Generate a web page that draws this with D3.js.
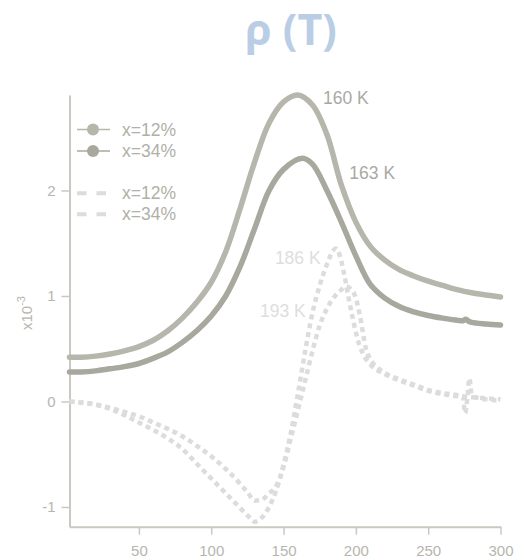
<!DOCTYPE html>
<html>
<head>
<meta charset="utf-8">
<script src="https://cdn.jsdelivr.net/npm/d3@7"></script>
<style>
  html, body { margin: 0; padding: 0; background: #ffffff; }
  svg { display: block; }
</style>
</head>
<body>
<svg id="chart" width="517" height="560"></svg>
<script>
// Resistivity rho(T), in units of 1e-3, for two doping levels
const rhoT12 = [2, 10, 20, 30, 40, 50, 60, 70, 80, 90, 100, 110, 120, 130, 140, 150, 160, 170, 180, 190, 200, 210, 220, 230, 240, 250, 260, 270, 280, 290, 300];
const rho12  = [0.42, 0.42, 0.43, 0.45, 0.48, 0.52, 0.58, 0.67, 0.79, 0.94, 1.13, 1.42, 1.83, 2.27, 2.64, 2.84, 2.905, 2.81, 2.53, 2.05, 1.70, 1.47, 1.34, 1.25, 1.19, 1.14, 1.10, 1.06, 1.03, 1.01, 0.99];

const rhoT34 = [2, 10, 20, 30, 40, 50, 60, 70, 80, 90, 100, 110, 120, 130, 140, 150, 163, 170, 180, 190, 200, 210, 220, 230, 240, 250, 260, 270, 274, 276, 278, 280, 290, 300];
const rho34  = [0.28, 0.28, 0.29, 0.31, 0.33, 0.36, 0.41, 0.47, 0.56, 0.67, 0.81, 1.00, 1.28, 1.64, 2.00, 2.20, 2.305, 2.25, 2.00, 1.70, 1.38, 1.11, 0.98, 0.90, 0.85, 0.815, 0.79, 0.77, 0.765, 0.78, 0.76, 0.75, 0.735, 0.725];

// Second quantity (dotted), same units
const dT12 = [2, 10, 20, 30, 40, 50, 60, 70, 80, 90, 100, 110, 120, 125, 130, 135, 140, 145, 150, 155, 160, 165, 170, 175, 180, 183, 186, 189, 192, 195, 198, 201, 205, 210, 220, 230, 240, 250, 260, 270, 280, 290, 300];
const d12  = [0, -0.01, -0.03, -0.07, -0.13, -0.20, -0.27, -0.35, -0.45, -0.59, -0.73, -0.87, -1.01, -1.08, -1.14, -1.10, -1.00, -0.84, -0.60, -0.30, 0.08, 0.48, 0.84, 1.10, 1.30, 1.40, 1.45, 1.38, 1.20, 0.98, 0.78, 0.60, 0.45, 0.35, 0.26, 0.20, 0.15, 0.10, 0.07, 0.05, 0.04, 0.03, 0.02];

const dT34 = [2, 10, 20, 30, 40, 50, 60, 70, 80, 90, 100, 110, 120, 125, 130, 135, 140, 145, 150, 155, 160, 165, 170, 175, 180, 185, 190, 193, 197, 200, 203, 207, 210, 215, 220, 230, 240, 250, 260, 270, 274, 275.5, 277, 278.5, 280, 285, 290, 300];
const d34  = [0, -0.01, -0.03, -0.06, -0.10, -0.14, -0.20, -0.26, -0.33, -0.42, -0.52, -0.64, -0.78, -0.86, -0.94, -0.93, -0.87, -0.80, -0.62, -0.35, -0.08, 0.20, 0.48, 0.72, 0.88, 0.99, 1.06, 1.09, 1.06, 0.98, 0.80, 0.50, 0.40, 0.32, 0.27, 0.21, 0.16, 0.11, 0.08, 0.06, 0.05, -0.11, 0.02, 0.22, 0.07, 0.03, 0.02, 0.01];

// Peak annotations
const peakLabels = [
  { T: 160, v: 2.905, text: "160 K", dx: 25, dy: 9,  anchor: "start", color: "#a9a9a3" },
  { T: 163, v: 2.305, text: "163 K", dx: 47, dy: 21, anchor: "start", color: "#a9a9a3" },
  { T: 186, v: 1.45,  text: "186 K", dx: -15, dy: 15, anchor: "end", color: "#dedede" },
  { T: 193, v: 1.09,  text: "193 K", dx: -40, dy: 31, anchor: "end", color: "#dedede" }
];

const xTicks = [50, 100, 150, 200, 250, 300];
const yTicks = [-1, 0, 1, 2];
const legendLabels = ["x=12%", "x=34%"];

const svg = d3.select("#chart");
const font = "'Liberation Sans', Arial, sans-serif";

const x = d3.scaleLinear().domain([2, 300]).range([69.5, 500.5]);
const y = d3.scaleLinear().domain([-1.187, 2.905]).range([526.7, 95]);

// Title
svg.append("text")
  .attr("x", 291).attr("y", 45)
  .attr("text-anchor", "middle")
  .attr("font-family", "'Open Sans', 'Noto Sans', sans-serif")
  .attr("font-weight", "bold")
  .attr("font-size", 43)
  .attr("fill", "#b9cde5")
  .text("ρ (T)");

// Axes
const axisColor = "#c9c9c2";
const labelColor = "#b6b6ae";

const gx = svg.append("g")
  .attr("transform", `translate(0,${y.range()[0]})`)
  .call(d3.axisBottom(x).tickValues(xTicks).tickSize(8).tickSizeOuter(0).tickPadding(11));
const gy = svg.append("g")
  .attr("transform", `translate(${x.range()[0]},0)`)
  .call(d3.axisLeft(y).tickValues(yTicks).tickSize(8).tickSizeOuter(0).tickPadding(6)
    .tickFormat(d => d < 0 ? "-" + Math.abs(d) : String(d)));

[gx, gy].forEach(g => {
  g.select(".domain").attr("stroke", axisColor).attr("stroke-width", 2);
  g.selectAll(".tick line").attr("stroke", axisColor).attr("stroke-width", 1.5);
  g.selectAll(".tick text")
    .attr("fill", labelColor)
    .attr("font-family", font)
    .attr("font-size", 15);
});

// Y unit label
const unit = svg.append("text")
  .attr("transform", "translate(32,313) rotate(-90)")
  .attr("text-anchor", "middle")
  .attr("font-family", font)
  .attr("font-size", 15)
  .attr("fill", labelColor);
unit.append("tspan").text("x10");
unit.append("tspan").attr("dy", -7).attr("font-size", 11).text("-3");

// Lines
const smoothLine = d3.line()
  .x(d => x(d[0]))
  .y(d => y(d[1]))
  .curve(d3.curveCatmullRom.alpha(0.5));
const dottedLine = d3.line()
  .x(d => x(d[0]))
  .y(d => y(d[1]))
  .curve(d3.curveMonotoneX);

const zip = (a, b) => a.map((t, i) => [t, b[i]]);

const dotColor = "#dcdcdc";
[[dT12, d12], [dT34, d34]].forEach(([t, v]) => {
  svg.append("path")
    .datum(zip(t, v))
    .attr("d", dottedLine)
    .attr("fill", "none")
    .attr("stroke", dotColor)
    .attr("stroke-width", 4.5)
    .attr("stroke-dasharray", "5,4");
});

const solidColors = ["#b6b6ad", "#a8a89f"];
[[rhoT12, rho12], [rhoT34, rho34]].forEach(([t, v], i) => {
  svg.append("path")
    .datum(zip(t, v))
    .attr("d", smoothLine)
    .attr("fill", "none")
    .attr("stroke", solidColors[i])
    .attr("stroke-width", 5.5)
    .attr("stroke-linecap", "round")
    .attr("stroke-linejoin", "round");
});

// Peak labels
peakLabels.forEach(p => {
  svg.append("text")
    .attr("x", x(p.T) + p.dx)
    .attr("y", y(p.v) + p.dy)
    .attr("text-anchor", p.anchor)
    .attr("font-family", font)
    .attr("font-size", 17.5)
    .attr("fill", p.color)
    .text(p.text);
});

// Legend
const legText = "#b0b0a8";
legendLabels.forEach((lab, i) => {
  const ly = 129.5 + i * 21.5;
  svg.append("line")
    .attr("x1", 77).attr("x2", 110).attr("y1", ly).attr("y2", ly)
    .attr("stroke", solidColors[i]).attr("stroke-width", 1.5);
  svg.append("circle")
    .attr("cx", 93).attr("cy", ly).attr("r", 6)
    .attr("fill", solidColors[i]);
  svg.append("text")
    .attr("x", 122).attr("y", ly + 6)
    .attr("font-family", font).attr("font-size", 17.5)
    .attr("fill", legText).text(lab);
});
legendLabels.forEach((lab, i) => {
  const ly = 193.3 + i * 21;
  svg.append("line")
    .attr("x1", 77).attr("x2", 106).attr("y1", ly).attr("y2", ly)
    .attr("stroke", dotColor).attr("stroke-width", 4)
    .attr("stroke-dasharray", "9.5,10");
  svg.append("text")
    .attr("x", 122).attr("y", ly + 6)
    .attr("font-family", font).attr("font-size", 17.5)
    .attr("fill", legText).text(lab);
});
</script>
</body>
</html>
